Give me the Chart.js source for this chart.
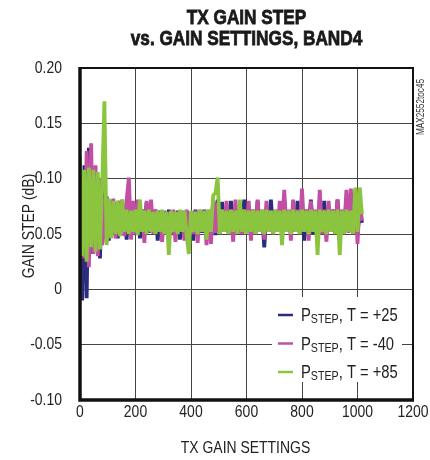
<!DOCTYPE html>
<html>
<head>
<meta charset="utf-8">
<style>
  body { margin: 0; background: #fff; }
  #gain-canvas { display: block; }
</style>
</head>
<body>
<canvas id="gain-canvas" width="430" height="460"></canvas>
<script src="https://cdn.jsdelivr.net/npm/chart.js@4.4.1/dist/chart.umd.min.js"></script>
<script>
  // Gain settings are sampled every 8 codes (0, 8, 16, ... 1016)
  let setting_step = 8;

  // GAIN STEP (dB), T = +25
  let step_t25 = [
    0.060, -0.010, 0.112, -0.008, 0.128, 0.032, 0.104, 0.036,
    0.098, 0.028, 0.092, 0.046, 0.084, 0.044, 0.080, 0.050,
    0.078, 0.046, 0.080, 0.052, 0.072, 0.045, 0.081, 0.050,
    0.074, 0.052, 0.071, 0.046, 0.072, 0.053, 0.078, 0.051,
    0.070, 0.052, 0.072, 0.044, 0.071, 0.052, 0.070, 0.053,
    0.072, 0.049, 0.070, 0.052, 0.071, 0.045, 0.069, 0.052,
    0.071, 0.050, 0.070, 0.044, 0.072, 0.052, 0.070, 0.051,
    0.072, 0.046, 0.070, 0.052, 0.080, 0.049, 0.081, 0.052,
    0.079, 0.053, 0.072, 0.050, 0.080, 0.052, 0.071, 0.050,
    0.072, 0.053, 0.081, 0.051, 0.071, 0.052, 0.072, 0.050,
    0.080, 0.053, 0.071, 0.038, 0.072, 0.052, 0.081, 0.051,
    0.071, 0.052, 0.072, 0.049, 0.081, 0.052, 0.071, 0.050,
    0.072, 0.053, 0.080, 0.051, 0.071, 0.044, 0.072, 0.052,
    0.081, 0.050, 0.071, 0.052, 0.072, 0.051, 0.080, 0.049,
    0.071, 0.052, 0.072, 0.050, 0.081, 0.052, 0.071, 0.050,
    0.082, 0.052, 0.072, 0.051, 0.083, 0.050, 0.072, 0.060
  ];

  // GAIN STEP (dB), T = -40
  let step_tm40 = [
    0.070, 0.100, 0.028, 0.125, 0.020, 0.132, 0.032, 0.112,
    0.030, 0.100, 0.040, 0.082, 0.042, 0.080, 0.048, 0.082,
    0.046, 0.080, 0.050, 0.081, 0.048, 0.080, 0.101, 0.045,
    0.080, 0.050, 0.081, 0.052, 0.072, 0.042, 0.080, 0.053,
    0.081, 0.050, 0.072, 0.052, 0.070, 0.043, 0.071, 0.052,
    0.070, 0.050, 0.072, 0.043, 0.070, 0.052, 0.071, 0.044,
    0.072, 0.052, 0.070, 0.050, 0.071, 0.042, 0.072, 0.052,
    0.070, 0.040, 0.072, 0.041, 0.080, 0.051, 0.078, 0.050,
    0.072, 0.052, 0.080, 0.051, 0.072, 0.043, 0.081, 0.052,
    0.071, 0.050, 0.072, 0.052, 0.080, 0.044, 0.072, 0.051,
    0.081, 0.052, 0.072, 0.045, 0.080, 0.052, 0.071, 0.050,
    0.072, 0.053, 0.080, 0.051, 0.090, 0.052, 0.072, 0.044,
    0.081, 0.052, 0.072, 0.050, 0.091, 0.052, 0.072, 0.044,
    0.080, 0.052, 0.072, 0.051, 0.090, 0.050, 0.072, 0.043,
    0.080, 0.052, 0.072, 0.051, 0.081, 0.050, 0.072, 0.052,
    0.090, 0.051, 0.091, 0.050, 0.090, 0.041, 0.080, 0.062
  ];

  // GAIN STEP (dB), T = +85
  let step_t85 = [
    0.120, 0.030, 0.108, 0.025, 0.110, 0.038, 0.108, 0.034,
    0.106, 0.036, 0.095, 0.170, 0.040, 0.082, 0.046, 0.080,
    0.050, 0.080, 0.048, 0.081, 0.052, 0.072, 0.050, 0.071,
    0.052, 0.072, 0.049, 0.081, 0.052, 0.071, 0.050, 0.072,
    0.052, 0.070, 0.050, 0.071, 0.052, 0.072, 0.050, 0.070,
    0.031, 0.071, 0.052, 0.070, 0.050, 0.072, 0.052, 0.071,
    0.050, 0.032, 0.071, 0.052, 0.070, 0.050, 0.072, 0.052,
    0.071, 0.045, 0.072, 0.052, 0.085, 0.087, 0.101, 0.050,
    0.072, 0.052, 0.071, 0.050, 0.072, 0.052, 0.071, 0.050,
    0.081, 0.052, 0.072, 0.050, 0.071, 0.052, 0.072, 0.050,
    0.071, 0.052, 0.072, 0.050, 0.072, 0.052, 0.071, 0.050,
    0.072, 0.052, 0.071, 0.040, 0.072, 0.052, 0.071, 0.050,
    0.072, 0.052, 0.071, 0.050, 0.072, 0.052, 0.071, 0.050,
    0.072, 0.052, 0.071, 0.031, 0.072, 0.052, 0.071, 0.050,
    0.072, 0.052, 0.071, 0.050, 0.072, 0.031, 0.071, 0.050,
    0.072, 0.052, 0.071, 0.050, 0.092, 0.052, 0.092, 0.068
  ];

  // Axis ticks
  let x_ticks = [0, 200, 400, 600, 800, 1000, 1200];
  let y_ticks = [-0.10, -0.05, 0, 0.05, 0.10, 0.15, 0.20];
  let y_tick_labels = ["-0.10", "-0.05", "0", "0.05", "0.10", "0.15", "0.20"];

  // Legend texts and colours
  let legend_temps = ["T = +25", "T = -40", "T = +85"];
  let series_colors = ["#2a2d7c", "#c24fa3", "#8bc53f"];

  // no narrow face installed: squeeze Liberation Sans like Arial Narrow
  let face = "'Liberation Sans', Arial, sans-serif";
  let squeeze = 0.82;

  let to_points = function(values) {
    let pts = [];
    for (let i = 0; i < values.length; i++) {
      pts.push({ x: i * setting_step, y: values[i] });
    }
    return pts;
  };

  let narrow_text = function(ctx, text, x, y, align, font, angle, heavy) {
    ctx.save();
    ctx.font = font;
    ctx.translate(x, y);
    if (angle) ctx.rotate(angle);
    ctx.scale(squeeze, 1);
    ctx.textAlign = align;
    ctx.fillText(text, 0, 0);
    if (heavy) {
      // thicken the bold title a little
      ctx.strokeStyle = ctx.fillStyle;
      ctx.lineWidth = heavy;
      ctx.strokeText(text, 0, 0);
    }
    ctx.restore();
  };

  // Texts, tick labels, frame and the boxed legend
  let decor_plugin = {
    id: 'decor',
    afterDatasetsDraw: function(chart) {
      let ctx = chart.ctx;
      let area = chart.chartArea;
      let x_scale = chart.scales.x;
      let y_scale = chart.scales.y;
      ctx.save();

      // legend box hides the grid behind it
      ctx.fillStyle = "#fff";
      ctx.fillRect(272, 297, 130, 85);
      for (let i = 0; i < legend_temps.length; i++) {
        let y = 315 + i * 28.5;
        ctx.strokeStyle = series_colors[i];
        ctx.lineWidth = 2.5;
        ctx.beginPath();
        ctx.moveTo(278, y);
        ctx.lineTo(293, y);
        ctx.stroke();

        ctx.fillStyle = "#222";
        ctx.textBaseline = "alphabetic";
        let x = 301;
        narrow_text(ctx, "P", x, y + 6, "left", "18px " + face);
        ctx.font = "18px " + face;
        x += ctx.measureText("P").width * squeeze;
        narrow_text(ctx, "STEP", x, y + 8, "left", "13px " + face);
        ctx.font = "13px " + face;
        x += ctx.measureText("STEP").width * squeeze;
        narrow_text(ctx, ", " + legend_temps[i], x, y + 6, "left", "18px " + face);
      }

      // plot frame
      ctx.strokeStyle = "#111";
      ctx.lineWidth = 2;
      ctx.strokeRect(area.left, area.top, area.right - area.left, area.bottom - area.top);
      ctx.lineWidth = 3.5;
      ctx.beginPath();
      ctx.moveTo(area.left, area.top - 1);
      ctx.lineTo(area.left, area.bottom);
      ctx.lineTo(area.right + 1, area.bottom);
      ctx.stroke();

      // tick labels, placed by the chart's scales
      ctx.fillStyle = "#222";
      ctx.textBaseline = "middle";
      for (let i = 0; i < x_ticks.length; i++) {
        let px = x_scale.getPixelForValue(x_ticks[i]);
        narrow_text(ctx, String(x_ticks[i]), px, 412, "center", "17px " + face);
      }
      for (let i = 0; i < y_ticks.length; i++) {
        let py = y_scale.getPixelForValue(y_ticks[i]);
        narrow_text(ctx, y_tick_labels[i], 62, py, "right", "17px " + face);
      }

      // chart title
      let cx = (area.left + area.right) / 2;
      ctx.fillStyle = "#1a1a1a";
      narrow_text(ctx, "TX GAIN STEP", cx, 18, "center", "bold 21px " + face, 0, 0.8);
      narrow_text(ctx, "vs. GAIN SETTINGS, BAND4", cx, 39, "center", "bold 21px " + face, 0, 0.8);

      // axis titles
      ctx.fillStyle = "#222";
      narrow_text(ctx, "TX GAIN SETTINGS", cx - 1, 448, "center", "17px " + face);
      narrow_text(ctx, "GAIN STEP (dB)", 29, 226, "center", "17px " + face, -Math.PI / 2);

      // figure tag
      ctx.fillStyle = "#333";
      narrow_text(ctx, "MAX2552toc45", 421, 107, "center", "10px " + face, -Math.PI / 2);

      ctx.restore();
    }
  };

  let gain_ctx = document.getElementById("gain-canvas").getContext("2d");
  let gain_chart = new Chart(gain_ctx, {
    type: 'line',
    data: {
      datasets: [
        { label: 'T = +25', data: to_points(step_t25), borderColor: series_colors[0], order: 3 },
        { label: 'T = -40', data: to_points(step_tm40), borderColor: series_colors[1], order: 2 },
        { label: 'T = +85', data: to_points(step_t85), borderColor: series_colors[2], order: 1 }
      ]
    },
    options: {
      responsive: false,
      animation: false,
      events: [],
      layout: { padding: { left: 0, top: 68, right: 17, bottom: 0 } },
      elements: {
        line: { borderWidth: 3.8, tension: 0, fill: false, borderJoinStyle: 'bevel' },
        point: { radius: 0 }
      },
      plugins: {
        legend: { display: false },
        tooltip: { enabled: false }
      },
      scales: {
        x: {
          type: 'linear',
          min: 0,
          max: 1200,
          afterFit: function(scale) { scale.height = 60; },
          afterBuildTicks: function(scale) {
            scale.ticks = x_ticks.map(function(v) { return { value: v }; });
          },
          grid: { color: "#444", lineWidth: 1, drawTicks: false },
          border: { display: false },
          ticks: { display: false }
        },
        y: {
          min: -0.10,
          max: 0.20,
          afterFit: function(scale) { scale.width = 80; },
          afterBuildTicks: function(scale) {
            scale.ticks = y_ticks.map(function(v) { return { value: v }; });
          },
          grid: { color: "#444", lineWidth: 1, drawTicks: false },
          border: { display: false },
          ticks: { display: false }
        }
      }
    },
    plugins: [decor_plugin]
  });
</script>
</body>
</html>
